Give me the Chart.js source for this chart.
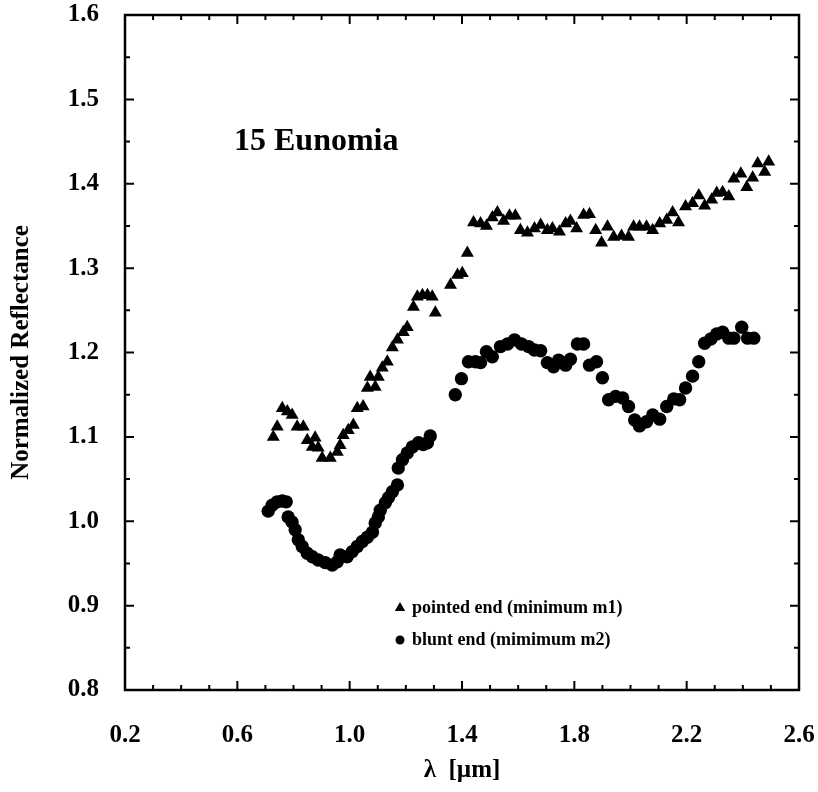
<!DOCTYPE html>
<html>
<head>
<meta charset="utf-8">
<script src="https://cdn.jsdelivr.net/npm/chart.js@4.4.0/dist/chart.umd.min.js"></script>
<style>
html,body{margin:0;padding:0;background:#fff;}
#wrap{width:818px;height:792px;}
</style>
</head>
<body>
<div id="wrap"><canvas id="grafico" width="818" height="792"></canvas></div>
<script>
// pointed end (triangles)
const pointedWl = [
  0.728,0.742,0.760,0.778,0.795,0.813,0.835,0.849,0.867,0.877,
  0.888,0.902,0.931,0.956,0.966,0.977,0.995,1.013,1.027,1.048,
  1.063,1.073,1.091,1.102,1.116,1.134,1.152,1.170,1.191,1.205,
  1.227,1.241,1.259,1.277,1.294,1.305,1.359,1.384,1.401,1.419,
  1.441,1.466,1.487,1.508,1.526,1.548,1.569,1.590,1.608,1.633,
  1.658,1.680,1.704,1.722,1.747,1.769,1.786,1.808,1.833,1.854,
  1.876,1.897,1.918,1.940,1.968,1.993,2.011,2.032,2.057,2.079,
  2.104,2.129,2.150,2.171,2.196,2.221,2.243,2.264,2.289,2.307,
  2.328,2.350,2.368,2.393,2.414,2.435,2.453,2.478,2.492];
const pointedRefl = [
  1.100,1.112,1.134,1.130,1.126,1.112,1.112,1.096,1.088,1.099,
  1.087,1.075,1.075,1.082,1.090,1.102,1.108,1.114,1.134,1.136,
  1.158,1.171,1.159,1.171,1.182,1.189,1.206,1.215,1.224,1.230,
  1.254,1.266,1.268,1.268,1.266,1.247,1.280,1.292,1.294,1.318,
  1.354,1.353,1.350,1.360,1.366,1.356,1.362,1.362,1.345,1.342,
  1.347,1.351,1.345,1.347,1.343,1.353,1.356,1.347,1.363,1.364,
  1.345,1.330,1.349,1.337,1.338,1.337,1.349,1.349,1.349,1.345,
  1.353,1.357,1.366,1.354,1.373,1.377,1.386,1.374,1.381,1.389,
  1.390,1.385,1.406,1.412,1.396,1.407,1.424,1.414,1.426];

// blunt end (circles)
const bluntWl = [
  0.710,0.724,0.742,0.760,0.774,0.781,0.795,0.806,0.817,0.831,
  0.849,0.867,0.888,0.913,0.938,0.956,0.966,0.991,1.009,1.027,
  1.045,1.063,1.081,1.091,1.102,1.109,1.127,1.138,1.152,1.170,
  1.173,1.188,1.205,1.223,1.245,1.262,1.277,1.287,1.376,1.398,
  1.423,1.448,1.466,1.487,1.508,1.537,1.562,1.587,1.612,1.637,
  1.658,1.680,1.704,1.726,1.744,1.769,1.786,1.811,1.833,1.854,
  1.879,1.900,1.922,1.947,1.972,1.993,2.015,2.032,2.057,2.079,
  2.104,2.129,2.154,2.175,2.196,2.221,2.243,2.264,2.286,2.307,
  2.328,2.350,2.368,2.396,2.417,2.439];
const bluntRefl = [
  1.012,1.019,1.023,1.024,1.023,1.005,0.999,0.990,0.978,0.970,
  0.962,0.958,0.954,0.951,0.948,0.952,0.960,0.958,0.964,0.970,
  0.976,0.981,0.987,0.998,1.005,1.013,1.022,1.028,1.035,1.043,
  1.063,1.073,1.081,1.088,1.093,1.091,1.093,1.101,1.150,1.169,
  1.189,1.189,1.188,1.201,1.195,1.207,1.210,1.215,1.210,1.207,
  1.203,1.202,1.188,1.183,1.191,1.185,1.192,1.210,1.210,1.185,
  1.189,1.170,1.144,1.148,1.146,1.136,1.120,1.113,1.118,1.126,
  1.121,1.136,1.145,1.144,1.158,1.172,1.189,1.211,1.216,1.222,
  1.224,1.217,1.217,1.230,1.217,1.217];

const xTicks = [0.2, 0.6, 1.0, 1.4, 1.8, 2.2, 2.6];
const yTicks = [0.8, 0.9, 1.0, 1.1, 1.2, 1.3, 1.4, 1.5, 1.6];
const serif = "'Liberation Serif', 'Times New Roman', Times, serif";

// box + inward ticks on all four sides
const caixa = {
  id: 'caixa',
  afterDraw(chart) {
    const {ctx, chartArea: a, scales: {x, y}} = chart;
    ctx.save();
    ctx.strokeStyle = '#000';
    ctx.lineWidth = 2;
    ctx.beginPath();
    for (let i = 0; i <= 24; i++) {
      const px = x.getPixelForValue(0.2 + i * 0.1);
      const len = i % 4 === 0 ? 9 : 5;
      ctx.moveTo(px, a.bottom); ctx.lineTo(px, a.bottom - len);
      ctx.moveTo(px, a.top); ctx.lineTo(px, a.top + len);
    }
    for (let i = 0; i <= 16; i++) {
      const py = y.getPixelForValue(0.8 + i * 0.05);
      const len = i % 2 === 0 ? 9 : 5;
      ctx.moveTo(a.left, py); ctx.lineTo(a.left + len, py);
      ctx.moveTo(a.right, py); ctx.lineTo(a.right - len, py);
    }
    ctx.stroke();
    ctx.lineWidth = 2.5;
    ctx.strokeRect(a.left, a.top, a.right - a.left, a.bottom - a.top);
    ctx.restore();
  }
};

// legend and label inside the plot
const legenda = {
  id: 'legenda',
  afterDraw(chart) {
    const ctx = chart.ctx;
    ctx.save();
    ctx.fillStyle = '#000';
    chart.data.datasets.forEach((ds, i) => {
      const cx = 400, cy = 608 + i * 32;
      ctx.beginPath();
      if (ds.pointStyle === 'triangle') {
        ctx.moveTo(cx, cy - 6); ctx.lineTo(cx + 5.2, cy + 3); ctx.lineTo(cx - 5.2, cy + 3); ctx.closePath();
      } else {
        ctx.arc(cx, cy, 4.5, 0, Math.PI * 2);
      }
      ctx.fill();
      ctx.font = `bold 18px ${serif}`;
      ctx.textBaseline = 'middle';
      ctx.fillText(ds.label, 412, cy);
    });
    ctx.font = `bold 32px ${serif}`;
    ctx.textBaseline = 'alphabetic';
    ctx.fillText('15 Eunomia', 234, 150);
    ctx.restore();
  }
};

const fonteTick = {family: serif, size: 25, weight: 'bold'};

new Chart(document.getElementById('grafico'), {
  type: 'scatter',
  data: {
    datasets: [
      {label: 'pointed end (minimum m1)', data: pointedWl.map((v, i) => ({x: v, y: pointedRefl[i]})),
       pointStyle: 'triangle', pointRadius: 7.5, backgroundColor: '#000', borderColor: '#000', borderWidth: 0},
      {label: 'blunt end (mimimum m2)', data: bluntWl.map((v, i) => ({x: v, y: bluntRefl[i]})),
       pointStyle: 'circle', pointRadius: 6.7, backgroundColor: '#000', borderColor: '#000', borderWidth: 0}
    ]
  },
  options: {
    responsive: false, animation: false, devicePixelRatio: 1, events: [],
    layout: {padding: {top: 15, right: 19, left: 0, bottom: 0}},
    plugins: {legend: {display: false}, tooltip: {enabled: false}},
    scales: {
      x: {
        type: 'linear', min: 0.2, max: 2.6,
        afterBuildTicks: s => { s.ticks = xTicks.map(v => ({value: v})); },
        afterFit: s => { s.height = 102; s.paddingLeft = 0; s.paddingRight = 0; },
        grid: {display: false, drawTicks: false}, border: {display: false},
        ticks: {padding: 31, color: '#000', font: fonteTick, maxRotation: 0, autoSkip: false, callback: v => v.toFixed(1)},
        title: {display: true, text: 'λ  [µm]', color: '#000', font: {family: serif, size: 25, weight: 'bold'}, padding: {top: 0, bottom: 6}}
      },
      y: {
        type: 'linear', min: 0.8, max: 1.6,
        afterBuildTicks: s => { s.ticks = yTicks.map(v => ({value: v})); },
        afterFit: s => { s.width = 125; s.paddingTop = 0; s.paddingBottom = 0; },
        grid: {display: false, drawTicks: false}, border: {display: false},
        ticks: {padding: 26, color: '#000', font: fonteTick, autoSkip: false, callback: v => v.toFixed(1)},
        title: {display: true, text: 'Normalized Reflectance', color: '#000', font: {family: serif, size: 25, weight: 'bold'}, padding: {top: 7, bottom: 0}}
      }
    }
  },
  plugins: [caixa, legenda]
});
</script>
</body>
</html>
